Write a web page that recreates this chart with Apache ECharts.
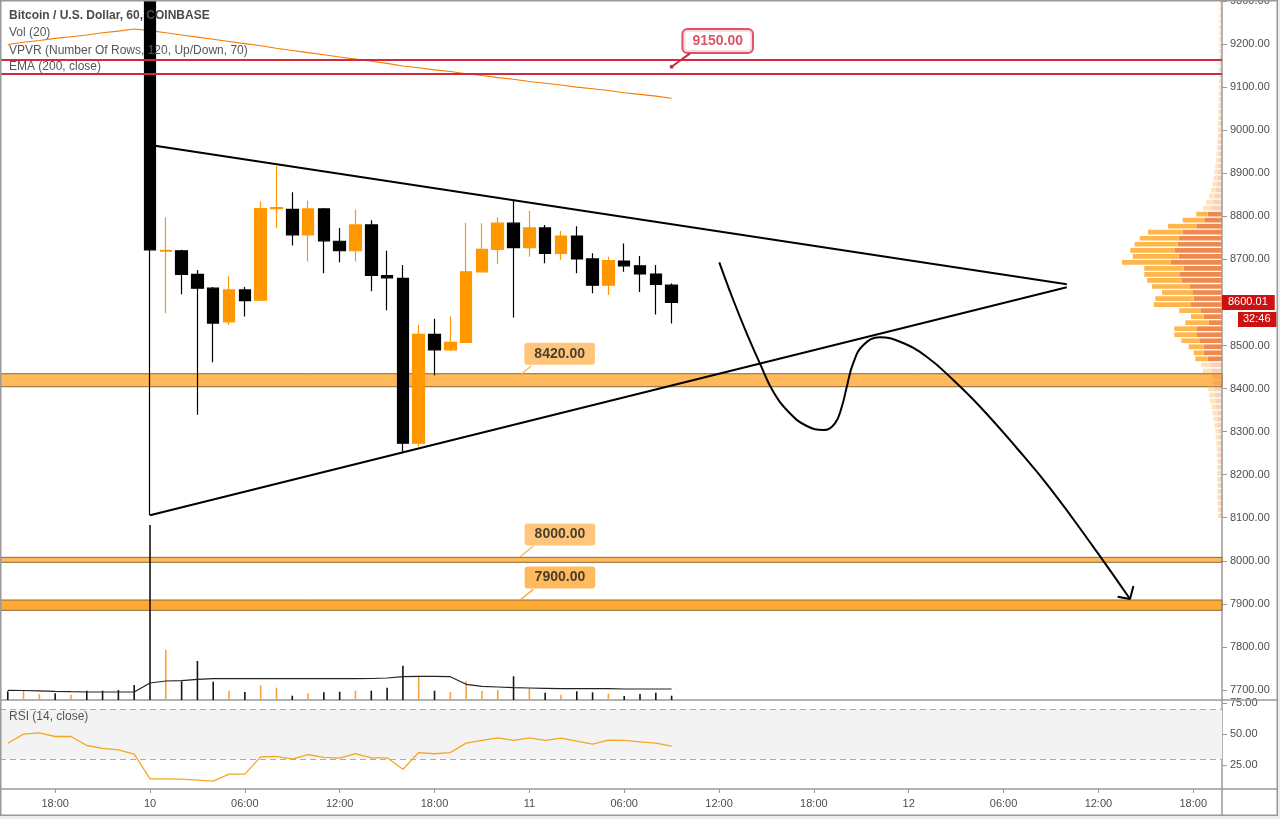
<!DOCTYPE html>
<html><head><meta charset="utf-8">
<script src="https://cdn.jsdelivr.net/npm/echarts@6/dist/echarts.min.js"></script>
<style>html,body{margin:0;padding:0;background:#fff;}#c{width:1280px;height:819px;}</style>
</head><body><div id="c"></div><script>
// ---------- data ----------
const times = [
 '2020-05-09 15:00','2020-05-09 16:00','2020-05-09 17:00','2020-05-09 18:00','2020-05-09 19:00','2020-05-09 20:00','2020-05-09 21:00','2020-05-09 22:00','2020-05-09 23:00',
 '2020-05-10 00:00','2020-05-10 01:00','2020-05-10 02:00','2020-05-10 03:00','2020-05-10 04:00','2020-05-10 05:00','2020-05-10 06:00','2020-05-10 07:00',
 '2020-05-10 08:00','2020-05-10 09:00','2020-05-10 10:00','2020-05-10 11:00','2020-05-10 12:00','2020-05-10 13:00','2020-05-10 14:00','2020-05-10 15:00',
 '2020-05-10 16:00','2020-05-10 17:00','2020-05-10 18:00','2020-05-10 19:00','2020-05-10 20:00','2020-05-10 21:00','2020-05-10 22:00','2020-05-10 23:00',
 '2020-05-11 00:00','2020-05-11 01:00','2020-05-11 02:00','2020-05-11 03:00','2020-05-11 04:00','2020-05-11 05:00','2020-05-11 06:00','2020-05-11 07:00',
 '2020-05-11 08:00','2020-05-11 09:00'
];
// [open, close, low, high]
const candles = [
 [9680,9660,9640,9700],[9660,9672,9650,9690],[9672,9680,9660,9695],[9680,9655,9645,9690],[9655,9662,9645,9670],
 [9662,9630,9620,9668],[9630,9612,9600,9640],[9612,9598,9585,9620],[9598,9560,9540,9605],
 [9560,8722,8106,9575],[8719,8721,8575,8798],[8720,8665,8619,8722],[8665,8633,8339,8675],[8633,8552,8461,8636],
 [8555,8629,8548,8661],[8629,8604,8567,8636],[8605,8818,8603,8835],[8818,8820,8772,8917],[8816,8757,8732,8856],
 [8757,8817,8695,8836],[8817,8743,8668,8819],[8742,8720,8693,8773],[8720,8780,8695,8816],[8780,8663,8626,8791],
 [8662,8657,8582,8720],[8656,8273,8253,8687],[8273,8526,8265,8548],[8526,8490,8431,8562],[8490,8507,8487,8567],
 [8507,8671,8505,8785],[8671,8723,8671,8784],[8723,8784,8689,8798],[8784,8727,8565,8836],
 [8727,8773,8706,8813],[8773,8714,8691,8780],[8714,8754,8699,8766],[8754,8701,8668,8777],[8701,8640,8621,8714],
 [8640,8697,8617,8706],[8696,8685,8671,8737],[8685,8666,8624,8708],[8666,8642,8572,8687],[8640,8600.01,8551,8644]
];
const volumes = [87,97,57,67,53,93,93,100,150,
 1750,503,187,390,183,93,80,147,123,43,67,77,83,93,93,123,343,230,93,80,187,90,100,237,
 117,73,53,87,77,63,40,60,73,43];
const volumeMA = [97,95,92,87,83,80,80,80,80,
 170,190,193,207,213,213,213,213,213,213,213,213,213,213,215,220,233,237,237,233,157,137,130,123,
 120,117,113,113,113,113,110,110,110,110];
const ema200 = [9199,9204,9208,9213,9217,9221,9226,9230,9235,
 9231,9226,9221,9216,9211,9206,9201,9196,9190,9185,9180,9175,9170,9165,9160,9155,9149,9145,9140,9136,9131,9127,9122,9118,
 9113,9109,9105,9100,9096,9092,9087,9083,9079,9074];
const rsi14 = [42.6,50,51.1,48.1,48.1,40.8,38.4,37.3,33.8,
 13.8,13.8,13.5,12.7,11.9,17.6,17.6,31.6,31.9,29.7,33.5,31.1,30.5,34.3,30.8,30.8,21.6,35.1,34.1,35.1,42.7,44.9,47.0,44.9,
 47.0,44.9,46.8,44.3,41.9,45.1,44.9,43.8,42.7,40.3];

// volume profile (VPVR) rows, top to bottom
const vpInner = [13,13,14,14,15,15,15,15,15,15,15,17,17,17,17,18,18,19,20,22,24,24,25,26,28,30,33,37,41,46,52,60,72,88,105,
 143,177,257,393,433,443,477,433,510,383,427,400,327,290,283,317,217,183,133,257,250,227,183,183,143,
 116,105,94,85,77,72,66,58,52,47,41,37,34,32,30,29,28,28,28,28,28,28,28,26,25,22];
const vpOuter = [10,10,11,11,12,12,12,12,12,12,12,13,13,13,13,15,15,16,17,18,19,19,20,22,22,25,27,30,34,37,43,50,58,72,85,
 114,216,283,347,390,430,440,460,490,394,350,350,373,310,384,366,210,127,234,220,227,180,150,100,124,
 94,85,76,70,63,58,54,47,43,38,34,30,28,26,24,23,22,22,22,22,22,22,22,22,20,18];
const vpTopBound = 9302, vpRowHeight = 14;
const vpValueArea = [35, 59];
const vpRowPrices = vpInner.map((_, k) => vpTopBound - vpRowHeight * k - vpRowHeight / 2);

const priceTicks = [7700,7800,7900,8000,8100,8200,8300,8400,8500,8600,8700,8800,8900,9000,9100,9200,9300];
const rsiTicks = [25, 50, 75];
const xTickLabels = ['18:00','10','06:00','12:00','18:00','11','06:00','12:00','18:00','12','06:00','12:00','18:00'];
const xTickFirst = '2020-05-09 18:00';

// levels & drawings (in time / price space)
const redBox = [9130.3, 9164.4];
const zoneBounds = [[8404.2, 8434.4], [7996.5, 8008], [7885, 7909]];
const calloutLevels = [9150, 8420, 8000, 7900];
const calloutBoxAt = [['2020-05-11 11:55', 9207], ['2020-05-11 01:55', 8481], ['2020-05-11 01:56', 8061], ['2020-05-11 01:56', 7961]];
const calloutPointer = [
 [['2020-05-11 09:00', 9147.3], ['2020-05-11 10:10', 9178.4]],
 [['2020-05-10 23:31', 8434.4], ['2020-05-11 00:08', 8453]],
 [['2020-05-10 23:25', 8009.5], ['2020-05-11 00:15', 8034.4]],
 [['2020-05-10 23:25', 7909], ['2020-05-11 00:15', 7933.8]]
];
const triangleUpper = [['2020-05-10 00:19', 8963.8], ['2020-05-12 10:00', 8642]];
const triangleLower = [['2020-05-10 00:00', 8105.6], ['2020-05-12 10:00', 8635]];
const projection = [
 ['2020-05-11 12:01',8693.1],['2020-05-11 12:54',8605.6],['2020-05-11 13:45',8528.2],['2020-05-11 14:35',8458.6],
 ['2020-05-11 15:26',8392.7],['2020-05-11 16:29',8342.5],['2020-05-11 17:33',8313.0],['2020-05-11 18:36',8303.7],
 ['2020-05-11 19:20',8319.3],['2020-05-11 19:46',8357.8],['2020-05-11 20:05',8404.3],['2020-05-11 20:29',8458.6],
 ['2020-05-11 21:08',8501.1],['2020-05-11 22:11',8518.9],['2020-05-11 23:27',8508.7],['2020-05-12 01:08',8473.9],
 ['2020-05-12 02:49',8419.8],['2020-05-12 04:31',8357.8],['2020-05-12 06:50',8262],['2020-05-12 09:00',8166],
 ['2020-05-12 11:40',8033],['2020-05-12 14:00',7911.3]
];
const arrowHead = [['2020-05-12 13:13',7916.6],['2020-05-12 14:00',7911.3],['2020-05-12 14:13',7941.5]];
const countdownText = '32:46';

// ---------- helpers ----------
const FONT = '"Liberation Sans", Arial, sans-serif';
const BASE = Date.UTC(2020, 4, 9, 0, 0);
function hourOf(s) {
  const [d, t] = s.split(' ');
  const [Y, M, D] = d.split('-').map(Number);
  const [H, Mi] = t.split(':').map(Number);
  return (Date.UTC(Y, M - 1, D, H, Mi) - BASE) / 3600000;
}
const pt = a => [hourOf(a[0]), a[1]];
const hrs = times.map(hourOf);
const X_MIN = 14.51, X_MAX = 91.82;
const Y_MIN = 7676.8, Y_MAX = 9302.2;
const MAIN_TOP = 0, MAIN_H = 700;
const RSI_TOP = 700, RSI_H = 89;
const PLOT_RIGHT = 58;
const tickHours = xTickLabels.map((_, i) => hourOf(xTickFirst) + 6 * i);
const lastClose = candles[candles.length - 1][1];
const UP = '#FF9800', DOWN = '#000000';
const volColors = candles.map(c => c[1] >= c[0] ? '#F9A33A' : '#151515');
const priceToY = p => MAIN_TOP + (Y_MAX - p) / (Y_MAX - Y_MIN) * MAIN_H;
const vpTopPx = priceToY(vpTopBound);
const vpBottomPx = priceToY(vpTopBound - vpRowHeight * vpRowPrices.length);
const inVA = k => k >= vpValueArea[0] && k <= vpValueArea[1];
const AX = '#9a9a9a', TXT = '#4d4d4d';
const CLEAR = 'rgba(0,0,0,0)';

const axisLabelStyle = { color: TXT, fontSize: 11, fontFamily: FONT };
const gridBase = { outerBoundsMode: 'none', containLabel: false };

const option = {
  animation: false,
  backgroundColor: '#ffffff',
  title: [
    { text: 'Bitcoin / U.S. Dollar, 60, COINBASE', left: 9, top: 10, padding: 0, textStyle: { fontSize: 12, fontWeight: 'bold', color: '#4a4a4a', fontFamily: FONT } },
    { text: 'Vol (20)', left: 9, top: 27, padding: 0, textStyle: { fontSize: 12, fontWeight: 'normal', color: '#555', fontFamily: FONT } },
    { text: 'VPVR (Number Of Rows, 120, Up/Down, 70)', left: 9, top: 45, padding: 0, textStyle: { fontSize: 12, fontWeight: 'normal', color: '#555', fontFamily: FONT } },
    { text: 'EMA (200, close)', left: 9, top: 61, padding: 0, textStyle: { fontSize: 12, fontWeight: 'normal', color: '#555', fontFamily: FONT } },
    { text: 'RSI (14, close)', left: 9, top: 711, padding: 0, textStyle: { fontSize: 12, fontWeight: 'normal', color: '#555', fontFamily: FONT } }
  ],
  grid: [
    Object.assign({ left: 0, right: PLOT_RIGHT, top: MAIN_TOP, height: MAIN_H }, gridBase),
    Object.assign({ left: 0, right: PLOT_RIGHT, top: MAIN_TOP + MAIN_H - 200, height: 200 }, gridBase),
    Object.assign({ left: 0, right: PLOT_RIGHT, top: RSI_TOP, height: RSI_H }, gridBase),
    Object.assign({ left: 1280 - PLOT_RIGHT - 300, right: PLOT_RIGHT, top: vpTopPx, height: vpBottomPx - vpTopPx }, gridBase)
  ],
  xAxis: [
    { gridIndex: 0, type: 'value', min: X_MIN, max: X_MAX, axisLine: { show: true, onZero: false, lineStyle: { color: AX, width: 1.5 } }, axisTick: { show: false }, axisLabel: { show: false }, splitLine: { show: false } },
    { gridIndex: 1, type: 'value', min: X_MIN, max: X_MAX, show: false },
    { gridIndex: 2, type: 'value', min: X_MIN, max: X_MAX, position: 'bottom',
      axisLine: { show: true, onZero: false, lineStyle: { color: AX, width: 1.5 } },
      axisTick: { show: true, length: 4, customValues: tickHours, lineStyle: { color: AX } },
      axisLabel: Object.assign({ customValues: tickHours, margin: 9, formatter: v => xTickLabels[Math.round((v - tickHours[0]) / 6)] }, axisLabelStyle),
      splitLine: { show: false } },
    { gridIndex: 3, type: 'value', inverse: true, min: 0, max: 3000, show: false }
  ],
  yAxis: [
    { gridIndex: 0, type: 'value', position: 'right', min: Y_MIN, max: Y_MAX,
      axisLine: { show: true, lineStyle: { color: AX, width: 1.5 } },
      axisTick: { show: true, length: 5, customValues: priceTicks, lineStyle: { color: AX } },
      axisLabel: Object.assign({ customValues: priceTicks, margin: 8, formatter: v => v.toFixed(2) }, axisLabelStyle),
      splitLine: { show: false } },
    { gridIndex: 1, type: 'value', min: 0, max: 2000, show: false },
    { gridIndex: 2, type: 'value', position: 'right', min: 5.54, max: 77.68,
      axisLine: { show: true, lineStyle: { color: AX, width: 1.5 } },
      axisTick: { show: true, length: 5, customValues: rsiTicks, lineStyle: { color: AX } },
      axisLabel: Object.assign({ customValues: rsiTicks, margin: 8, formatter: v => v.toFixed(2) }, axisLabelStyle),
      splitLine: { show: false } },
    { gridIndex: 3, type: 'category', inverse: true, data: vpRowPrices.map(String), show: false }
  ],
  series: [
    // volume profile
    { type: 'bar', xAxisIndex: 3, yAxisIndex: 3, stack: 'vp', barCategoryGap: '22%', z: 2, silent: true,
      data: vpInner.map((v, k) => ({ value: v, itemStyle: { color: '#EE8A50', opacity: inVA(k) ? 1 : 0.38 } })) },
    { type: 'bar', xAxisIndex: 3, yAxisIndex: 3, stack: 'vp', barCategoryGap: '22%', z: 2, silent: true,
      data: vpOuter.map((v, k) => ({ value: v, itemStyle: { color: '#FFB74D', opacity: inVA(k) ? 1 : 0.38 } })) },
    // volume
    { type: 'bar', xAxisIndex: 1, yAxisIndex: 1, barWidth: 1.6, silent: true, z: 2,
      data: volumes.map((v, i) => ({ value: [hrs[i], v], itemStyle: { color: volColors[i] } })) },
    { type: 'line', xAxisIndex: 1, yAxisIndex: 1, symbol: 'none', silent: true, z: 3,
      lineStyle: { color: '#222', width: 1.2 }, data: volumeMA.map((v, i) => [hrs[i], v]) },
    // candles
    { type: 'candlestick', xAxisIndex: 0, yAxisIndex: 0, barWidth: 12, clip: true, z: 3, silent: true,
      encode: { x: 0, y: [1, 2, 3, 4] },
      itemStyle: { color: UP, color0: DOWN, borderColor: UP, borderColor0: DOWN, borderWidth: 1.2 },
      data: candles.map((c, i) => [hrs[i], c[0], c[1], c[2], c[3]]),
      markArea: { silent: true,
        data: zoneBounds.map((b, i) => [
          { yAxis: b[0], itemStyle: { color: i === 2 ? '#FFA935' : '#FFB85A', borderColor: '#8a6a3c', borderWidth: 1 } },
          { yAxis: b[1] }
        ]) },
      markLine: { silent: true, symbol: ['none', 'none'],
        data: redBox.map(p => ({ yAxis: p, lineStyle: { color: '#D12A3F', width: 2, type: 'solid' }, label: { show: false } })) } },
    // last price tag (on an unclipped helper series)
    { type: 'line', xAxisIndex: 0, yAxisIndex: 0, data: [], clip: false, silent: true, z: 10,
      markLine: { silent: true, symbol: ['none', 'none'], animation: false,
        data: [
          { yAxis: lastClose, lineStyle: { color: CLEAR, width: 0 },
            label: { show: true, position: 'end', distance: 0, formatter: lastClose.toFixed(2), backgroundColor: '#CC1111', color: '#fff', fontSize: 11, fontFamily: FONT, padding: [2, 7, 2, 6] } },
          { yAxis: lastClose, lineStyle: { color: CLEAR, width: 0 },
            label: { show: true, position: 'end', distance: 0, offset: [16, 17], formatter: countdownText, backgroundColor: '#CC1111', color: '#fff', fontSize: 11, fontFamily: FONT, padding: [2, 6, 2, 5] } }
        ] } },
    // EMA
    { type: 'line', xAxisIndex: 0, yAxisIndex: 0, symbol: 'none', silent: true, z: 3,
      lineStyle: { color: '#F57C00', width: 1.1 }, data: ema200.map((v, i) => [hrs[i], v]) },
    // drawings
    { type: 'line', xAxisIndex: 0, yAxisIndex: 0, symbol: 'none', silent: true, z: 4,
      lineStyle: { color: '#000', width: 2 }, data: triangleUpper.map(pt) },
    { type: 'line', xAxisIndex: 0, yAxisIndex: 0, symbol: 'none', silent: true, z: 4,
      lineStyle: { color: '#000', width: 2 }, data: triangleLower.map(pt) },
    { type: 'line', xAxisIndex: 0, yAxisIndex: 0, symbol: 'none', silent: true, z: 4, smooth: 0.45,
      lineStyle: { color: '#000', width: 2 }, data: projection.map(pt) },
    { type: 'line', xAxisIndex: 0, yAxisIndex: 0, symbol: 'none', silent: true, z: 4,
      lineStyle: { color: '#000', width: 2 }, data: arrowHead.map(pt) },
    // callout pointers
    ...calloutPointer.map((seg, i) => ({
      type: 'line', xAxisIndex: 0, yAxisIndex: 0, silent: true, z: 5,
      lineStyle: { color: i === 0 ? '#D12A3F' : (i === 3 ? '#FFA935' : '#FFB85A'), width: i === 0 ? 2 : 1.5 },
      itemStyle: { color: '#D12A3F' },
      showSymbol: true,
      data: seg.map((p, j) => ({ value: pt(p), symbol: (i === 0 && j === 0) ? 'circle' : 'none', symbolSize: 4 }))
    })),
    // callout boxes
    { type: 'scatter', xAxisIndex: 0, yAxisIndex: 0, silent: true, z: 6, symbolSize: 1,
      itemStyle: { color: CLEAR },
      data: calloutLevels.map((lv, i) => ({
        value: pt(calloutBoxAt[i]),
        label: i === 0
          ? { show: true, position: 'inside', formatter: lv.toFixed(2), color: '#D12A3F', fontSize: 14, fontWeight: 'bold', fontFamily: FONT,
              backgroundColor: '#fff', borderColor: '#D12A3F', borderWidth: 2, borderRadius: 4, padding: [4, 9] }
          : { show: true, position: 'inside', formatter: lv.toFixed(2), color: '#1b1b1b', fontSize: 14, fontWeight: 'bold', fontFamily: FONT,
              backgroundColor: i === 3 ? '#FFA935' : '#FFB85A', borderRadius: 3, padding: [4, 10] }
      })) },
    // RSI
    { type: 'line', xAxisIndex: 2, yAxisIndex: 2, symbol: 'none', silent: true, z: 3,
      lineStyle: { color: '#F5A623', width: 1.3 }, data: rsi14.map((v, i) => [hrs[i], v]),
      markArea: { silent: true, itemStyle: { color: '#F3F3F3' }, data: [[{ yAxis: 30 }, { yAxis: 70 }]] },
      markLine: { silent: true, symbol: ['none', 'none'], label: { show: false },
        lineStyle: { color: '#ABABAB', type: [6, 4], width: 1 }, data: [{ yAxis: 70 }, { yAxis: 30 }] } }
  ],
  graphic: [
    { type: 'rect', silent: true, z: 0, shape: { x: 1277.5, y: 0, width: 3, height: 819 }, style: { fill: '#ececec' } },
    { type: 'rect', silent: true, z: 0, shape: { x: 0, y: 815.5, width: 1280, height: 4 }, style: { fill: '#ececec' } },
    { type: 'line', silent: true, z: 100, shape: { x1: 1222, y1: 700, x2: 1277, y2: 700 }, style: { stroke: AX, lineWidth: 1.5 } },
    { type: 'line', silent: true, z: 100, shape: { x1: 1222, y1: 789, x2: 1277, y2: 789 }, style: { stroke: AX, lineWidth: 1.5 } },
    { type: 'line', silent: true, z: 100, shape: { x1: 1222, y1: 789, x2: 1222, y2: 815 }, style: { stroke: AX, lineWidth: 1.5 } },
    { type: 'rect', silent: true, z: 100, shape: { x: 0.75, y: 0.75, width: 1276.5, height: 814.5 }, style: { fill: 'none', stroke: AX, lineWidth: 1.5 } }
  ]
};
const chart = echarts.init(document.getElementById('c'));
chart.setOption(option);
</script></body></html>
